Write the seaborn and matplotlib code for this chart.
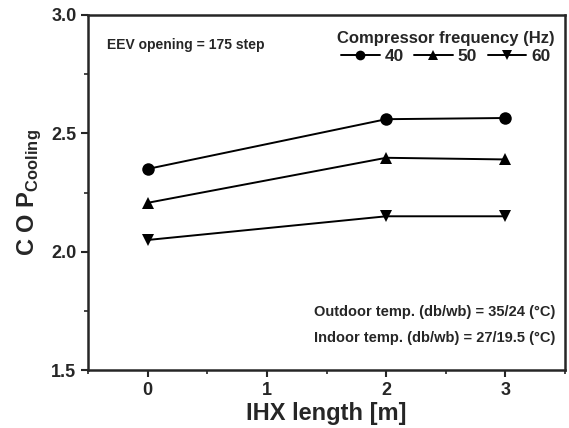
import pandas as pd
import seaborn as sns
import matplotlib.pyplot as plt
from matplotlib.ticker import MultipleLocator

# Données
ihx_length = [0, 2, 3]
frequencies = ["40", "50", "60"]
cop_40 = [2.35, 2.56, 2.565]
cop_50 = [2.207, 2.397, 2.39]
cop_60 = [2.05, 2.15, 2.15]

rows = []
for freq, vals in zip(frequencies, [cop_40, cop_50, cop_60]):
    for x, y in zip(ihx_length, vals):
        rows.append({"IHX": x, "COP": y, "freq": freq})
df = pd.DataFrame(rows)

sns.set_style("ticks")
plt.rcParams["font.family"] = ["Liberation Sans", "DejaVu Sans"]
plt.rcParams["font.weight"] = "bold"
plt.rcParams["mathtext.fontset"] = "custom"
plt.rcParams["mathtext.bf"] = "Liberation Sans:bold"
plt.rcParams["mathtext.rm"] = "Liberation Sans:bold"

fig, ax = plt.subplots(figsize=(5.69, 4.28), dpi=100)

sns.lineplot(data=df, x="IHX", y="COP", hue="freq", style="freq",
             markers=["o", "^", "v"], dashes=False,
             palette=["black"] * 3, markersize=9, markeredgewidth=0,
             linewidth=1.4, ax=ax)

ax.set_xlim(-0.5, 3.5)
ax.set_ylim(1.5, 3.0)
ax.xaxis.set_major_locator(MultipleLocator(1))
ax.xaxis.set_minor_locator(MultipleLocator(0.5))
ax.yaxis.set_major_locator(MultipleLocator(0.5))
ax.yaxis.set_minor_locator(MultipleLocator(0.25))
ax.yaxis.set_major_formatter(plt.FormatStrFormatter("%.1f"))

for s in ax.spines.values():
    s.set_linewidth(1.8)
ax.tick_params(which="major", direction="out", length=5, width=1.5,
               labelsize=13, top=False, right=False)
ax.tick_params(which="minor", direction="out", length=3, width=1.2,
               top=False, right=False)
for lab in ax.get_xticklabels() + ax.get_yticklabels():
    lab.set_fontweight("bold")

ax.set_xlabel("IHX length [m]", fontsize=17, fontweight="bold", labelpad=2)
ax.set_ylabel(r"C O P$_{\mathbf{Cooling}}$", fontsize=17, fontweight="bold",
              labelpad=6)

handles, labels = ax.get_legend_handles_labels()
leg = ax.legend(handles, labels, title="Compressor frequency (Hz)", ncol=3,
                frameon=False, loc="upper right", bbox_to_anchor=(1.0, 0.985),
                fontsize=12.5, title_fontsize=12, handlelength=2.2,
                handletextpad=0.3, columnspacing=0.6, borderaxespad=0.2,
                labelspacing=0.2)
leg.get_title().set_fontweight("bold")
for t in leg.get_texts():
    t.set_fontweight("bold")
for h in leg.legend_handles:
    h.set_markersize(7)

ax.text(0.04, 0.915, "EEV opening = 175 step", transform=ax.transAxes,
        fontsize=10, fontweight="bold", ha="left", va="center")
ax.text(0.98, 0.165, "Outdoor temp. (db/wb) = 35/24 (°C)", transform=ax.transAxes,
        fontsize=10.5, fontweight="bold", ha="right", va="center")
ax.text(0.98, 0.09, "Indoor temp. (db/wb) = 27/19.5 (°C)", transform=ax.transAxes,
        fontsize=10.5, fontweight="bold", ha="right", va="center")

fig.subplots_adjust(left=0.155, right=0.993, top=0.965, bottom=0.135)
fig.savefig("out.png", dpi=100)
